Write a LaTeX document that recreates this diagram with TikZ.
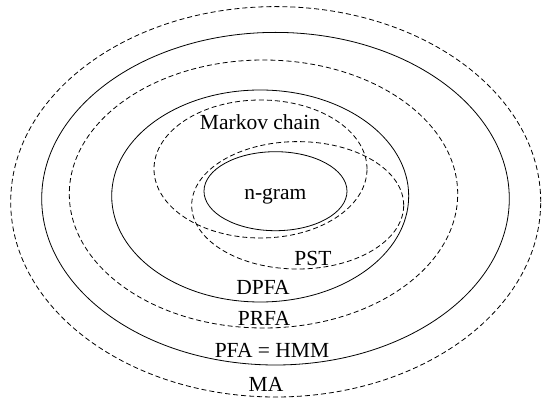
\documentclass[tikz,border=0pt]{standalone}
\usepackage{fontspec}
\setmainfont{Liberation Serif}
\usetikzlibrary{shapes.geometric}
\tikzset{
  ring/.style={ellipse, draw=black, line width=0.8pt, inner sep=0pt, outer sep=0pt},
  dashring/.style={ring, dash pattern=on 5pt off 3pt},
  lab/.style={anchor=base, inner sep=0pt, font=\fontsize{21.5}{24}\selectfont}
}
\begin{document}
\begin{tikzpicture}[x=1pt,y=-1pt]
\useasboundingbox (0,0) rectangle (542,398);
% ellipses
\node[dashring, minimum width=530pt, minimum height=390.4pt] (ma) at (275.7,201.8) {};
\node[ring, minimum width=467.6pt, minimum height=332.6pt] (pfa) at (275.5,198.7) {};
\node[dashring, minimum width=388.4pt, minimum height=268pt] (prfa) at (263.5,194) {};
\node[ring, minimum width=297pt, minimum height=212pt] (dpfa) at (260.2,196) {};
\node[dashring, minimum width=213pt, minimum height=138pt] (markov) at (260.5,169) {};
\node[dashring, minimum width=212pt, minimum height=127.4pt] (pst) at (297.7,205.3) {};
\node[ring, minimum width=143pt, minimum height=79pt] (ngram) at (275.5,191.2) {};
% labels
\node[lab] (tmarkov) at (260,129.3) {Markov chain};
\node[lab] (tngram) at (275.3,199.3) {n-gram};
\node[lab] (tpst) at (313,266) {PST};
\node[lab] (tdpfa) at (263,294.3) {DPFA};
\node[lab] (tprfa) at (264,326) {PRFA};
\node[lab] (tpfa) at (272,357.3) {PFA = HMM};
\node[lab] (tma) at (266,391.7) {MA};
\end{tikzpicture}
\end{document}
